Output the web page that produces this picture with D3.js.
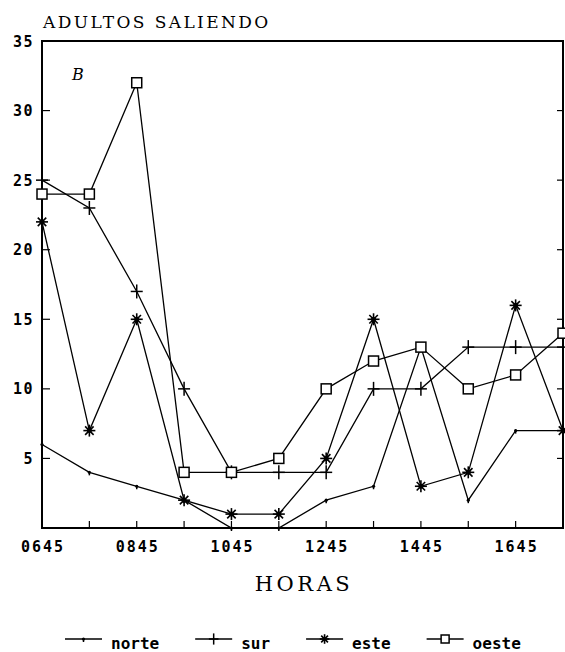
<!DOCTYPE html>
<html>
<head>
<meta charset="utf-8">
<script src="https://cdn.jsdelivr.net/npm/d3@7"></script>
<style>
body { margin: 0; background: #fff; }
</style>
</head>
<body>
<script>
// horas del muestreo (cada punto de la serie)
var horas = ["0645","0745","0845","0945","1045","1145","1245","1345","1445","1545","1645","1745"];
var horasEtiqueta = ["0645","0845","1045","1245","1445","1645"];
var yTicks = [5, 10, 15, 20, 25, 30, 35];

var norte = [6, 4, 3, 2, 0, 0, 2, 3, 13, 2, 7, 7];
var sur   = [25, 23, 17, 10, 4, 4, 4, 10, 10, 13, 13, 13];
var este  = [22, 7, 15, 2, 1, 1, 5, 15, 3, 4, 16, 7];
var oeste = [24, 24, 32, 4, 4, 5, 10, 12, 13, 10, 11, 14];

var nombres = ["norte", "sur", "este", "oeste"];
var series = [norte, sur, este, oeste];

var W = 565, H = 652;
var pLeft = 42, pRight = 563, pTop = 41, pBottom = 528;

var svg = d3.select("body").append("svg")
	.attr("width", W)
	.attr("height", H)
	.style("font-family", "'DejaVu Sans Mono', monospace")

var x = d3.scalePoint().domain(horas).range([pLeft, pRight]);
var y = d3.scaleLinear().domain([0, 35]).range([pBottom, pTop]);

// marco
svg.append("rect")
	.attr("x", pLeft).attr("y", pTop)
	.attr("width", pRight - pLeft).attr("height", pBottom - pTop)
	.attr("fill", "none")
	.attr("stroke", "black")
	.attr("stroke-width", 2)

// ticks eje y (izq y der)
svg.selectAll("ytl").data(yTicks.filter(d => d < 35)).enter()
	.append("line")
	.attr("x1", pLeft).attr("x2", pLeft + 8)
	.attr("y1", d => y(d)).attr("y2", d => y(d))
	.attr("stroke", "black").attr("stroke-width", 1.2)
svg.selectAll("ytr").data(yTicks.filter(d => d < 35)).enter()
	.append("line")
	.attr("x1", pRight).attr("x2", pRight - 6)
	.attr("y1", d => y(d)).attr("y2", d => y(d))
	.attr("stroke", "black").attr("stroke-width", 1.2)

svg.selectAll("ylab").data(yTicks).enter()
	.append("text")
	.attr("x", pLeft - 8)
	.attr("y", d => y(d) + 5.5)
	.attr("text-anchor", "end")
	.attr("font-size", 15)
	.attr("font-weight", "bold")
	.attr("letter-spacing", 1.5)
	.text(d => d)

// ticks eje x
svg.selectAll("xt").data(horas.slice(1, -1)).enter()
	.append("line")
	.attr("x1", d => x(d)).attr("x2", d => x(d))
	.attr("y1", pBottom).attr("y2", pBottom - 7)
	.attr("stroke", "black").attr("stroke-width", 1.2)

svg.selectAll("xlab").data(horasEtiqueta).enter()
	.append("text")
	.attr("x", d => x(d) + 1)
	.attr("y", 552)
	.attr("text-anchor", "middle")
	.attr("font-size", 15)
	.attr("font-weight", "bold")
	.attr("letter-spacing", 2)
	.text(d => d)

// titulos
svg.append("text")
	.attr("x", 43).attr("y", 28)
	.attr("font-family", "'DejaVu Serif', serif")
	.attr("font-size", 17)
	.attr("letter-spacing", 2.4)
	.text("ADULTOS SALIENDO")

svg.append("text")
	.attr("x", 72).attr("y", 80)
	.attr("font-family", "'DejaVu Serif', serif")
	.attr("font-style", "italic")
	.attr("font-size", 16)
	.text("B")

svg.append("text")
	.attr("x", 304).attr("y", 591)
	.attr("text-anchor", "middle")
	.attr("font-family", "'DejaVu Serif', serif")
	.attr("font-size", 21)
	.attr("letter-spacing", 3.5)
	.text("HORAS")

// marcadores
function marker(g, tipo, s) {
	if (tipo == "norte") {
		g.append("line").attr("x1", 0).attr("x2", 0).attr("y1", -1).attr("y2", 3)
			.attr("stroke", "black").attr("stroke-width", 1.5)
		g.append("circle").attr("r", 1.6).attr("fill", "black")
	} else if (tipo == "sur") {
		g.append("line").attr("x1", -6 * s).attr("x2", 6 * s).attr("y1", 0).attr("y2", 0)
			.attr("stroke", "black").attr("stroke-width", 1.5)
		g.append("line").attr("x1", 0).attr("x2", 0).attr("y1", -7 * s).attr("y2", 7 * s)
			.attr("stroke", "black").attr("stroke-width", 1.5)
	} else if (tipo == "este") {
		[0, 45, 90, 135].forEach(function(a) {
			var r = a * Math.PI / 180;
			g.append("line")
				.attr("x1", -6 * s * Math.cos(r)).attr("y1", -6 * s * Math.sin(r))
				.attr("x2", 6 * s * Math.cos(r)).attr("y2", 6 * s * Math.sin(r))
				.attr("stroke", "black").attr("stroke-width", 1.6)
		})
		g.append("circle").attr("r", 2.5 * s).attr("fill", "black")
	} else {
		g.append("rect").attr("x", -5 * s).attr("y", -5 * s).attr("width", 10 * s).attr("height", 10 * s)
			.attr("fill", "white").attr("stroke", "black").attr("stroke-width", 1.5)
	}
}

var line = d3.line()
	.x((d, i) => x(horas[i]))
	.y(d => y(d))

series.forEach(function(s, k) {
	svg.append("path")
		.attr("d", line(s))
		.attr("fill", "none")
		.attr("stroke", "black")
		.attr("stroke-width", 1.3)
})

series.forEach(function(s, k) {
	s.forEach(function(v, i) {
		var g = svg.append("g").attr("transform", "translate(" + x(horas[i]) + "," + y(v) + ")");
		marker(g, nombres[k], 1);
	})
})

// leyenda
var lx = 65, ly = 649;
nombres.forEach(function(n) {
	svg.append("line")
		.attr("x1", lx).attr("x2", lx + 37)
		.attr("y1", ly - 10).attr("y2", ly - 10)
		.attr("stroke", "black").attr("stroke-width", 1.3)
	var g = svg.append("g").attr("transform", "translate(" + (lx + 18.5) + "," + (ly - 10) + ")");
	marker(g, n, 0.8);
	var t = svg.append("text")
		.attr("x", lx + 46).attr("y", ly)
		.attr("font-size", 16)
		.attr("font-weight", "bold")
		.text(n)
	lx = lx + 46 + t.node().getComputedTextLength() + 36;
})
</script>
</body>
</html>
